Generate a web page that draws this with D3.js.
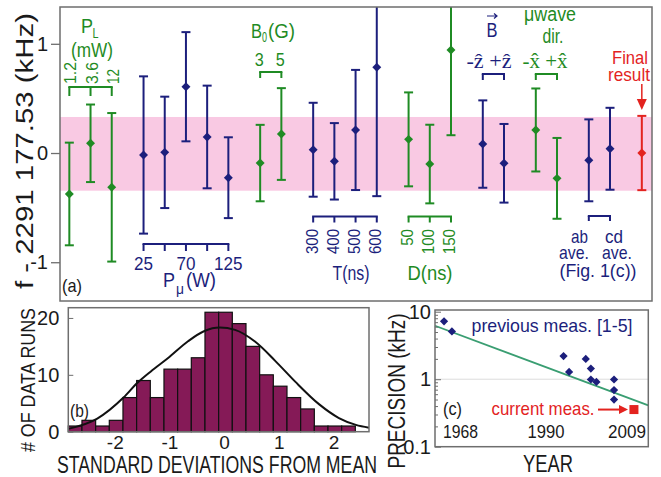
<!DOCTYPE html>
<html><head><meta charset="utf-8">
<script src="https://cdn.jsdelivr.net/npm/d3@7"></script>
<style>html,body{margin:0;padding:0;background:#fff}svg{display:block}</style>
</head><body>
<script>
// ---------- DATA ----------
// Panel (a): measurement slots, values (kHz) and symmetric uncertainties
const slotsA  = [0,1,2,3.5,4.5,5.5,6.5,7.5,9,10,11.5,12.5,13.5,14.5,16,17,18,19.5,20.5,22,23,24.5,25.5,27];
const valuesA = [-0.375,0.089,-0.314,-0.018,0.006,0.607,0.147,-0.226,-0.092,0.174,0.03,-0.076,0.211,0.785,0.125,-0.101,0.943,0.082,-0.094,0.211,-0.232,-0.067,0.039,0.0];
const errorsA = [0.47,0.355,0.68,0.72,0.51,0.5,0.47,0.37,0.35,0.42,0.43,0.35,0.55,1.18,0.43,0.36,0.78,0.4,0.36,0.38,0.37,0.375,0.375,0.34];
const groupsA = ['g','g','g','b','b','b','b','b','g','g','b','b','b','b','g','g','g','b','b','g','g','b','b','r'];
const bandA   = [-0.345, 0.33];
const yTicksA = [-1, 0, 1];
const plLabels = ['1.2','3.6','12'];
const pmuLabels = [['25',3.5],['70',5.5],['125',7.5]];
const tLabels = ['300','400','500','600'];
const dLabels = ['50','100','150'];

// Panel (b): histogram
const binEdgesB = [-2.85,-2.6,-2.35,-2.1,-1.85,-1.6,-1.35,-1.1,-0.85,-0.6,-0.35,-0.1,0.15,0.4,0.65,0.9,1.15,1.4,1.65,1.9,2.15,2.4];
const countsB   = [1,2,1,2,6,9,6,11,11,13,21,21,19,15,10,8,6,4,1,1,1];
const curveXB   = [-2.85,-2.32,-1.84,-1.585,-1.34,-1.03,-0.66,-0.36,-0.08,0.2,0.57,0.93,1.3,1.74,2.1,2.41,2.65];
const curveYB   = [0.5,2.3,6.0,8.6,10.6,12.9,15.9,17.7,18.3,17.9,15.8,12.5,8.8,4.8,2.4,1.2,0.7];
const yTicksB   = [0,10,20];
const xTicksB   = [-2,-1,0,1,2];

// Panel (c): precision vs year
const yearsC = [1968,1969.7,1993.8,1995,1998.6,1999.7,1999.7,2000.9,2004.7,2004.7,2004.7];
const precC  = [7.2,5.1,2.2,1.28,2.0,1.44,0.99,0.91,0.99,0.69,0.5];
const currentC = [2009, 0.355];
const trendC = [[1966.05, 6.2],[2012.1, 0.41]];
const yTicksC = [0.1, 1, 10];
const xTicksC = [1968, 1990, 2009];

// ---------- STYLE ----------
const FF = "'Liberation Sans', Arial, Helvetica, sans-serif";
const GREEN = '#1f8b24', NAVY = '#1c1f7c', RED = '#e3231f', PINK = '#f9c9e3';
const BAR = '#851a57', TEAL = '#3a9e72', FRAME = '#6e6e6e', INK = '#1a1a1a';
const colorOf = {g: GREEN, b: NAVY, r: RED};

const svg = d3.select('body').append('svg').attr('width', 661).attr('height', 477)
  .style('font-family', FF);
svg.append('rect').attr('width', 661).attr('height', 477).attr('fill', '#fff');

function txt(g, s, x, y, o) {
  o = o || {};
  const t = g.append('text')
    .attr('transform', `translate(${x},${y})` + (o.rot ? ` rotate(${o.rot})` : ''))
    .attr('text-anchor', o.anchor || 'middle')
    .attr('font-size', o.size || 19)
    .attr('fill', o.color || INK)
    .text(s);
  if (o.family) t.attr('font-family', o.family);
  if (o.len) t.attr('textLength', o.len).attr('lengthAdjust', 'spacingAndGlyphs');
  return t;
}
const diamond = d3.symbol(d3.symbolSquare, 40);

// ================= PANEL (a) =================
const xA = d3.scaleLinear().domain([-0.44, 27.48]).range([60, 652]);
const yA = d3.scaleLinear().domain([-1.355, 1.337]).range([301, 7]);
const gA = svg.append('g');
svg.append('clipPath').attr('id', 'clipA').append('rect')
  .attr('x', 60).attr('y', 7).attr('width', 592).attr('height', 294);
const plotA = gA.append('g').attr('clip-path', 'url(#clipA)');
plotA.append('rect').attr('x', 60).attr('width', 592)
  .attr('y', yA(bandA[1])).attr('height', yA(bandA[0]) - yA(bandA[1])).attr('fill', PINK);

slotsA.forEach((s, i) => {
  const c = colorOf[groupsA[i]], x = xA(s);
  const yt = yA(valuesA[i] + errorsA[i]), yb = yA(valuesA[i] - errorsA[i]);
  const g = plotA.append('g').attr('stroke', c).attr('stroke-width', 2);
  g.append('line').attr('x1', x).attr('x2', x).attr('y1', yt).attr('y2', yb);
  g.append('line').attr('x1', x - 4.5).attr('x2', x + 4.5).attr('y1', yt).attr('y2', yt);
  g.append('line').attr('x1', x - 4.5).attr('x2', x + 4.5).attr('y1', yb).attr('y2', yb);
  plotA.append('path').attr('d', diamond)
    .attr('transform', `translate(${x},${yA(valuesA[i])}) rotate(45)`).attr('fill', c);
});

gA.append('rect').attr('x', 60).attr('y', 7).attr('width', 592).attr('height', 294)
  .attr('fill', 'none').attr('stroke', FRAME).attr('stroke-width', 1.5);
const axA = gA.append('g').attr('transform', 'translate(60,0)')
  .call(d3.axisLeft(yA).tickValues(yTicksA).tickSize(9).tickPadding(3).tickFormat(d => String(d)));
axA.select('.domain').remove();
axA.selectAll('line').attr('stroke', FRAME).attr('stroke-width', 1.3);
axA.selectAll('text').attr('font-size', 20).attr('font-family', FF).attr('fill', INK);

txt(gA, 'f - 2291 177.53  (kHz)', 33, 151, {rot: -90, size: 23, len: 276});
txt(gA, '(a)', 62, 292, {anchor: 'start', size: 19, len: 20});

function bracket(slots, y, tick, color) {
  const g = gA.append('g').attr('stroke', color).attr('stroke-width', 2).attr('fill', 'none');
  g.append('line').attr('x1', xA(d3.min(slots)) - 1).attr('x2', xA(d3.max(slots)) + 1).attr('y1', y).attr('y2', y);
  slots.forEach(s => g.append('line').attr('x1', xA(s)).attr('x2', xA(s)).attr('y1', y).attr('y2', y + tick));
}
// P_L group
txt(gA, 'P', 81, 33, {anchor: 'start', size: 21, len: 12, color: GREEN});
txt(gA, 'L', 92.5, 38, {anchor: 'start', size: 14, len: 6, color: GREEN});
txt(gA, '(mW)', 92, 57, {size: 20, len: 42, color: GREEN});
plLabels.forEach((l, i) => txt(gA, l, xA(slotsA[i]) + 7, 84, {anchor: 'start', rot: -90, size: 16, len: l.length > 2 ? 22 : 15, color: GREEN}));
bracket([0,1,2], 87, 9, GREEN);
// P_mu group
bracket([3.5,4.5,5.5,6.5,7.5], 244, 7, NAVY);
pmuLabels.forEach(([l, s]) => txt(gA, l, xA(s), 270, {size: 19, len: l.length * 9.5, color: NAVY}));
txt(gA, 'P', 163, 287, {anchor: 'start', size: 20, len: 12, color: NAVY});
txt(gA, 'μ', 176, 294, {anchor: 'start', size: 15, len: 8, color: NAVY});
txt(gA, '(W)', 186, 287, {anchor: 'start', size: 20, len: 30, color: NAVY});
// B0 group
txt(gA, 'B', 251, 38, {anchor: 'start', size: 20, len: 11, color: GREEN});
txt(gA, '0', 262, 42, {anchor: 'start', size: 14, len: 5, color: GREEN});
txt(gA, '(G)', 268, 38, {anchor: 'start', size: 20, len: 27, color: GREEN});
txt(gA, '3', xA(9) - 1, 66, {size: 19, len: 9, color: GREEN});
txt(gA, '5', xA(10) - 1, 66, {size: 19, len: 9, color: GREEN});
bracket([9,10], 72, 6, GREEN);
// T group
bracket([11.5,12.5,13.5,14.5], 216.5, 6, NAVY);
tLabels.forEach((l, i) => txt(gA, l, xA(11.5 + i) + 4.5, 229, {anchor: 'end', rot: -90, size: 16, len: 25, color: NAVY}));
txt(gA, 'T(ns)', 351, 280, {size: 21, len: 37, color: NAVY});
// D group
bracket([16,17,18], 216.5, 6, GREEN);
dLabels.forEach((l, i) => txt(gA, l, xA(16 + i) + 4, 229, {anchor: 'end', rot: -90, size: 16, len: l.length * 8.4, color: GREEN}));
txt(gA, 'D(ns)', 430, 280, {size: 21, len: 45, color: GREEN});
// B vector group
txt(gA, 'B', 492, 37, {size: 20, len: 11, color: NAVY});
gA.append('path').attr('d', 'M487,16 L497,16 M494,13.5 L497,16 L494,18.5')
  .attr('stroke', NAVY).attr('stroke-width', 1.2).attr('fill', 'none');
txt(gA, '-z\u0302 +z\u0302', 489, 68, {size: 20, len: 45, color: NAVY, family: "'Liberation Serif', 'DejaVu Serif', serif"});
bracket([19.5,20.5], 74, 6, NAVY);
// microwave direction group
txt(gA, 'μwave', 550, 21, {size: 20, len: 52, color: GREEN});
txt(gA, 'dir.', 553, 43, {size: 20, len: 21, color: GREEN});
txt(gA, '-x\u0302 +x\u0302', 545, 68, {size: 20, len: 45, color: GREEN, family: "'Liberation Serif', 'DejaVu Serif', serif"});
bracket([22,23], 74, 6, GREEN);
// Final result
txt(gA, 'Final', 630, 64, {size: 19, len: 36, color: RED});
txt(gA, 'result', 629, 81, {size: 19, len: 42, color: RED});
gA.append('line').attr('x1', xA(27)).attr('x2', xA(27)).attr('y1', 84).attr('y2', 101)
  .attr('stroke', RED).attr('stroke-width', 1.5);
gA.append('path').attr('d', `M${xA(27)-5},99 L${xA(27)+5},99 L${xA(27)},110 Z`).attr('fill', RED);
// ab / cd averages
bracket([24.5,25.5], 216, 5, NAVY);
txt(gA, 'ab', 579.5, 243, {size: 19, len: 17, color: NAVY});
txt(gA, 'cd', 614, 243, {size: 19, len: 18, color: NAVY});
txt(gA, 'ave.', 574, 259, {size: 19, len: 30, color: NAVY});
txt(gA, 'ave.', 617, 259, {size: 19, len: 30, color: NAVY});
txt(gA, '(Fig. 1(c))', 598, 277, {size: 19, len: 77, color: NAVY});

// ================= PANEL (b) =================
const xB = d3.scaleLinear().domain([-2.85, 2.65]).range([68.3, 369]);
const yB = d3.scaleLinear().domain([0, 21.8]).range([431.7, 307.7]);
const gB = svg.append('g');
gB.selectAll('rect.bar').data(countsB).join('rect').attr('class', 'bar')
  .attr('x', (d, i) => xB(binEdgesB[i])).attr('width', (d, i) => xB(binEdgesB[i + 1]) - xB(binEdgesB[i]))
  .attr('y', d => yB(d)).attr('height', d => yB(0) - yB(d))
  .attr('fill', BAR).attr('stroke', '#111').attr('stroke-width', 1.2);
gB.append('path').datum(curveXB.map((x, i) => [x, curveYB[i]]))
  .attr('d', d3.line().x(d => xB(d[0])).y(d => yB(d[1])).curve(d3.curveMonotoneX))
  .attr('fill', 'none').attr('stroke', '#111').attr('stroke-width', 2);
gB.append('rect').attr('x', 68.3).attr('y', 307.7).attr('width', 369 - 68.3).attr('height', 431.7 - 307.7)
  .attr('fill', 'none').attr('stroke', FRAME).attr('stroke-width', 1.5);
const axBy = gB.append('g').attr('transform', 'translate(68.3,0)')
  .call(d3.axisLeft(yB).tickValues(yTicksB).tickSizeInner(-5).tickSizeOuter(0).tickPadding(9).tickFormat(d => String(d)));
axBy.select('.domain').remove();
axBy.selectAll('line').attr('stroke', FRAME);
axBy.selectAll('text').attr('font-size', 20).attr('font-family', FF).attr('fill', INK);
const axBx = gB.append('g').attr('transform', 'translate(0,431.7)')
  .call(d3.axisBottom(xB).tickValues(xTicksB).tickSize(0).tickPadding(4).tickFormat(d => String(d)));
axBx.select('.domain').remove();
axBx.selectAll('text').attr('font-size', 19).attr('font-family', FF).attr('fill', INK);
txt(gB, '(b)', 70, 417, {anchor: 'start', size: 19, len: 19});
txt(gB, '# OF DATA RUNS', 35, 380, {rot: -90, size: 20, len: 144});
txt(gB, 'STANDARD DEVIATIONS FROM MEAN', 217, 473, {size: 23, len: 320});

// ================= PANEL (c) =================
const xC = d3.scaleLinear().domain([1966.05, 2012.1]).range([435, 648.3]);
const yC = d3.scaleLog().domain([0.1, 10.6]).range([446.7, 310]);
const gC = svg.append('g');
gC.append('line').attr('x1', 435).attr('x2', 648.3).attr('y1', yC(1)).attr('y2', yC(1))
  .attr('stroke', '#dcdcdc').attr('stroke-width', 1);
gC.append('line').attr('x1', xC(trendC[0][0])).attr('y1', yC(trendC[0][1]))
  .attr('x2', xC(trendC[1][0])).attr('y2', yC(trendC[1][1]))
  .attr('stroke', TEAL).attr('stroke-width', 1.8);
gC.selectAll('path.pt').data(yearsC).join('path').attr('class', 'pt')
  .attr('d', d3.symbol(d3.symbolSquare, 34))
  .attr('transform', (d, i) => `translate(${xC(d)},${yC(precC[i])}) rotate(45)`)
  .attr('fill', NAVY);
gC.append('rect').attr('x', xC(currentC[0]) - 4.5).attr('y', yC(currentC[1]) - 4.5)
  .attr('width', 9).attr('height', 9).attr('fill', RED);
gC.append('line').attr('x1', 598).attr('x2', 621).attr('y1', yC(currentC[1])).attr('y2', yC(currentC[1]))
  .attr('stroke', RED).attr('stroke-width', 2);
gC.append('path').attr('d', `M619,${yC(currentC[1]) - 4.5} L628,${yC(currentC[1])} L619,${yC(currentC[1]) + 4.5} Z`).attr('fill', RED);
gC.append('rect').attr('x', 435).attr('y', 310).attr('width', 648.3 - 435).attr('height', 446.7 - 310)
  .attr('fill', 'none').attr('stroke', FRAME).attr('stroke-width', 1.5);
const minorC = yC.ticks().filter(v => !yTicksC.includes(v));
const axCm = gC.append('g').attr('transform', 'translate(435,0)')
  .call(d3.axisLeft(yC).tickValues(minorC).tickSizeInner(-3).tickSizeOuter(0).tickFormat(''));
axCm.select('.domain').remove();
axCm.selectAll('line').attr('stroke', FRAME);
const axC = gC.append('g').attr('transform', 'translate(435,0)')
  .call(d3.axisLeft(yC).tickValues(yTicksC).tickSizeInner(-6).tickSizeOuter(0).tickPadding(4).tickFormat(d => String(d)));
axC.select('.domain').remove();
axC.selectAll('line').attr('stroke', FRAME);
axC.selectAll('text').attr('font-size', 20).attr('font-family', FF).attr('fill', INK);
txt(gC, String(xTicksC[0]), xC(xTicksC[0]) - 1, 438, {anchor: 'start', size: 19, len: 35});
txt(gC, String(xTicksC[1]), xC(xTicksC[1]), 438, {size: 19, len: 37});
txt(gC, String(xTicksC[2]), xC(xTicksC[2]) + 12, 438, {anchor: 'end', size: 19, len: 38});
txt(gC, 'previous meas. [1-5]', 552, 332, {size: 19, len: 161, color: NAVY});
txt(gC, '(c)', 443, 415, {anchor: 'start', size: 19, len: 19});
txt(gC, 'current meas.', 543, 415, {size: 19, len: 103, color: RED});
txt(gC, 'YEAR', 548, 472, {size: 24, len: 50});
txt(gC, 'PRECISION (kHz)', 405, 391, {rot: -90, size: 24, len: 155});
</script>
</body></html>
